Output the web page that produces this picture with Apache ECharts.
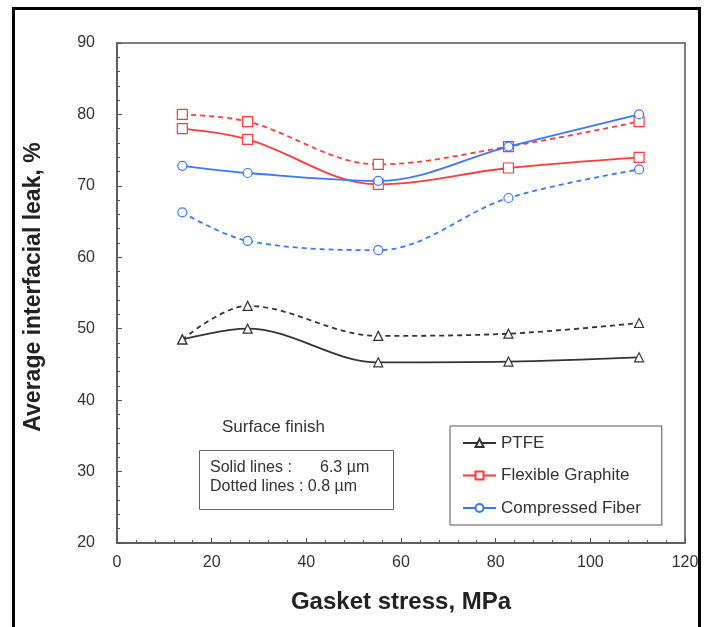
<!DOCTYPE html>
<html><head><meta charset="utf-8">
<script src="https://cdn.jsdelivr.net/npm/echarts@6/dist/echarts.min.js"></script>
<style>html,body{margin:0;padding:0;background:#fff}#c{width:707px;height:627px}</style>
</head><body><div id="c"></div>
<script>
const stress = [13.8, 27.6, 55.2, 82.7, 110.3];
const ptfeSolid = [48.5, 50.0, 45.3, 45.4, 46.0];
const ptfeDotted = [48.5, 53.2, 49.0, 49.3, 50.8];
const graphiteSolid = [78.0, 76.5, 70.2, 72.5, 74.0];
const graphiteDotted = [80.0, 79.0, 73.0, 75.5, 79.0];
const fiberSolid = [72.8, 71.8, 70.7, 75.5, 80.0];
const fiberDotted = [66.3, 62.3, 61.0, 68.3, 72.3];
const seriesNames = ['PTFE', 'Flexible Graphite', 'Compressed Fiber'];

const pairs = v => stress.map((x, i) => [x, v[i]]);
function mk(name, vals, color, symbol, dashed) {
  return {
    name: name, type: 'line', data: pairs(vals), smooth: 0.35,
    symbol: symbol, symbolSize: symbol === 'rect' ? 10 : 9,
    itemStyle: { color: '#fff', borderColor: color, borderWidth: 1.2 },
    lineStyle: { color: color, width: 1.8, type: dashed ? [5, 4] : 'solid' },
    emphasis: { disabled: true }, z: dashed ? 2 : 3
  };
}
const F = 'Liberation Sans';
const chart = echarts.init(document.getElementById('c'));
chart.setOption({
  backgroundColor: '#fff',
  animation: false,
  grid: { left: 117, right: 22, top: 43, bottom: 84, show: true, borderColor: '#555', borderWidth: 1.5, backgroundColor: 'transparent' },
  xAxis: {
    type: 'value', min: 0, max: 120, interval: 20,
    name: 'Gasket stress, MPa', nameLocation: 'middle', nameGap: 47,
    nameTextStyle: { fontFamily: F, fontWeight: 'bold', fontSize: 24, color: '#222' },
    axisLine: { lineStyle: { color: '#555', width: 1.5 } },
    axisTick: { inside: true, length: 5, lineStyle: { color: '#555' } },
    minorTick: { show: true, splitNumber: 5, length: 3, lineStyle: { color: '#555' } },
    axisLabel: { fontFamily: F, fontSize: 16, color: '#333', margin: 12 },
    splitLine: { show: false }
  },
  yAxis: {
    type: 'value', min: 20, max: 90, interval: 10,
    name: 'Average interfacial leak, %', nameLocation: 'middle', nameGap: 72,
    nameTextStyle: { fontFamily: F, fontWeight: 'bold', fontSize: 23, color: '#222', padding: [0, 0, 0, 12] },
    axisLine: { show: true, lineStyle: { color: '#555', width: 1.5 } },
    axisTick: { show: true, inside: true, length: 5, lineStyle: { color: '#555' } },
    minorTick: { show: true, splitNumber: 5, length: 3, lineStyle: { color: '#555' } },
    axisLabel: { fontFamily: F, fontSize: 16, color: '#333', margin: 22 },
    splitLine: { show: false }
  },
  legend: {
    data: seriesNames, orient: 'vertical', left: 450, top: 426,
    itemWidth: 33, itemHeight: 10, itemGap: 15.5,
    padding: [8.5, 21, 8.5, 12],
    borderColor: '#555', borderWidth: 1, backgroundColor: '#fff',
    textStyle: { fontFamily: F, fontSize: 17, color: '#333' }
  },
  graphic: [
    { type: 'rect', left: 11, top: 6, shape: { width: 686, height: 640 }, style: { fill: 'none', stroke: '#000', lineWidth: 3 }, silent: true },
    { type: 'text', left: 222, top: 419, style: { text: 'Surface finish', font: '17px "Liberation Sans"', fill: '#333' } },
    { type: 'rect', left: 199, top: 450, shape: { width: 194, height: 59 }, style: { fill: '#fff', stroke: '#666', lineWidth: 1 } },
    { type: 'text', left: 210, top: 460, style: { text: 'Solid lines :', font: '16px "Liberation Sans"', fill: '#333' } },
    { type: 'text', left: 320, top: 460, style: { text: '6.3 \u00b5m', font: '16px "Liberation Sans"', fill: '#333' } },
    { type: 'text', left: 210, top: 479, style: { text: 'Dotted lines : 0.8 \u00b5m', font: '16px "Liberation Sans"', fill: '#333' } }
  ],
  series: [
    mk('PTFE', ptfeSolid, '#333', 'triangle', false),
    mk('PTFE (0.8 \u00b5m)', ptfeDotted, '#333', 'triangle', true),
    mk('Flexible Graphite', graphiteSolid, '#ff3b3b', 'rect', false),
    mk('Flexible Graphite (0.8 \u00b5m)', graphiteDotted, '#ff3b3b', 'rect', true),
    mk('Compressed Fiber', fiberSolid, '#3a78ff', 'circle', false),
    mk('Compressed Fiber (0.8 \u00b5m)', fiberDotted, '#3a78ff', 'circle', true)
  ]
});
</script></body></html>
